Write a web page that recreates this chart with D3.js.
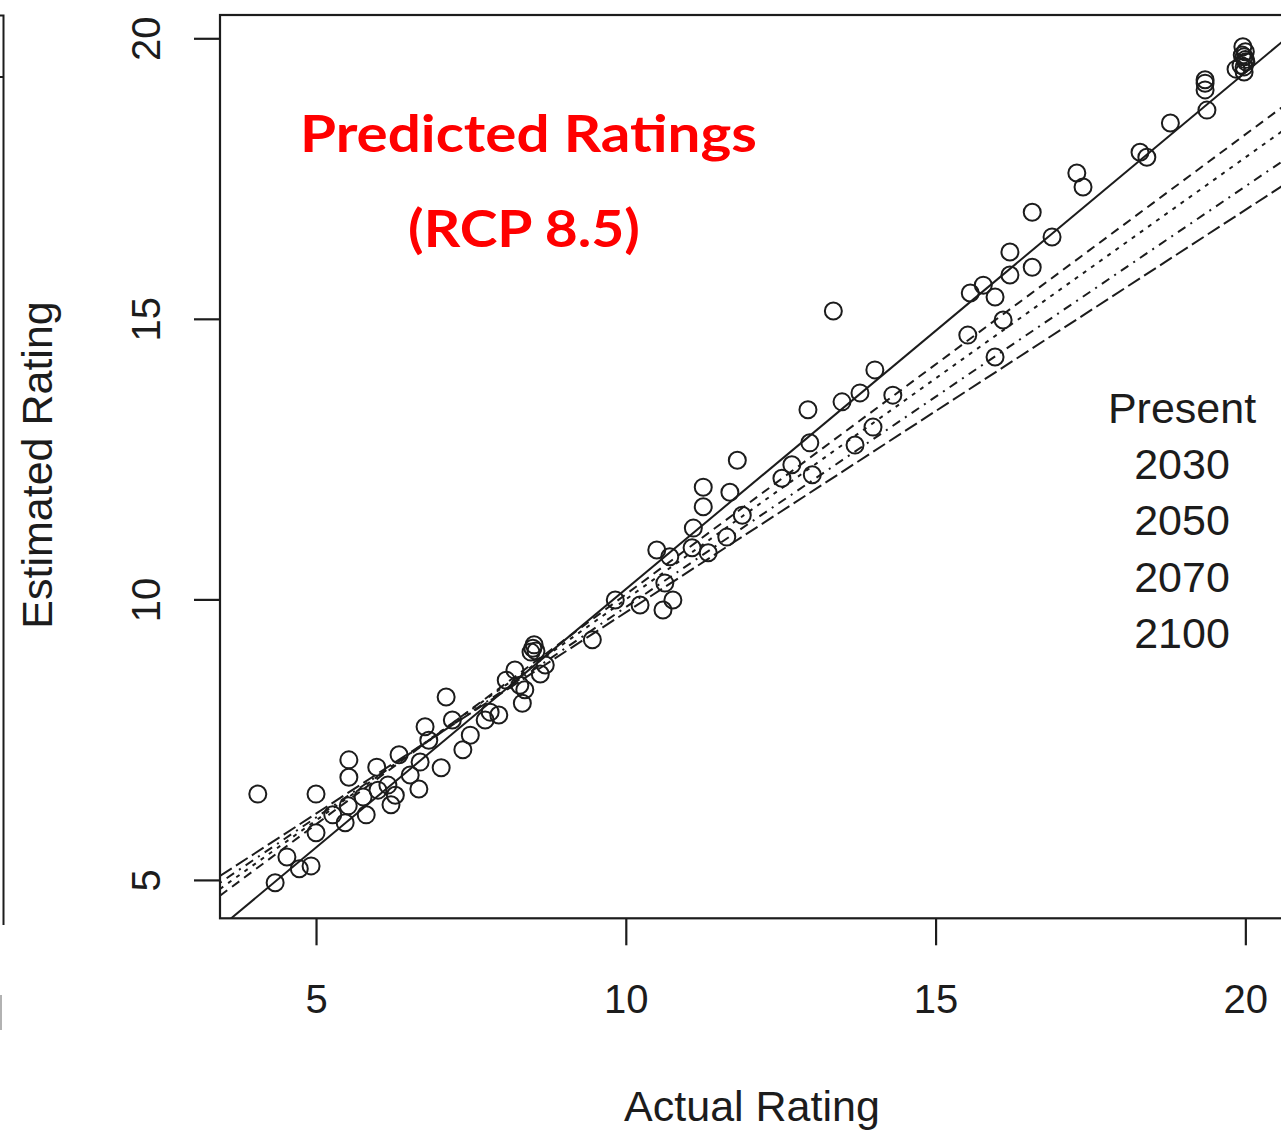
<!DOCTYPE html>
<html><head><meta charset="utf-8">
<script src="https://cdn.jsdelivr.net/npm/d3@7"></script>
<style>html,body{margin:0;padding:0;background:#fff;overflow:hidden}</style>
</head><body><svg id="c" width="1281" height="1132"></svg>
<script>
// ---- data ----
const actual = [4.06,5.00,4.34,4.73,4.92,4.53,5.00,5.47,5.52,5.53,5.53,5.98,6.34,6.76,7.10,7.20,6.82,7.02,6.66,6.21,5.81,5.76,6.00,6.28,6.52,6.68,6.16,5.27,7.37,7.49,7.95,8.07,8.33,8.50,8.55,8.47,8.52,8.62,8.37,8.21,8.70,7.81,8.29,7.73,
  9.46,9.83,10.23,10.60,10.76,10.63,10.50,11.09,11.25,11.25,11.07,11.33,11.63,11.68,11.80,11.88,12.52,12.68,13.01,12.97,13.70,13.99,10.71,
  13.35,12.94,13.49,13.78,14.02,14.31,15.52,15.96,16.09,15.56,15.77,15.96,16.20,16.20,16.56,16.56,16.88,17.28,17.38,18.30,18.41,18.79,19.35,19.35,19.38,19.35,
  19.96,20.00,19.98,20.01,19.93,19.85,19.98,20.00,19.95,19.98];
const estimated = [6.53,6.53,4.95,5.20,5.25,5.41,5.84,6.02,6.32,6.83,7.14,7.01,7.23,7.73,8.26,7.85,7.49,7.00,6.62,6.34,6.16,6.48,6.60,6.51,6.87,7.10,6.69,6.16,7.32,7.58,7.94,8.56,8.15,9.13,9.08,9.06,9.19,8.67,8.39,8.74,8.83,7.99,8.47,7.85,
  9.28,9.99,9.90,9.81,9.99,10.29,10.88,11.27,11.65,12.00,10.92,10.83,11.11,11.91,12.48,11.50,12.16,12.40,12.22,12.79,12.75,13.07,10.76,
  15.14,13.38,13.52,13.68,14.09,13.64,14.71,14.32,14.98,15.46,15.60,15.39,15.78,16.19,15.92,16.90,16.46,17.60,17.35,17.97,17.88,18.49,19.20,19.08,18.72,19.26,
  19.85,19.76,19.67,19.58,19.52,19.45,19.49,19.62,19.70,19.40];
const scenarios = ["Present","2030","2050","2070","2100"];
const fitX = [3.45, 20.64];
const fitStartY = [4.15, 4.72, 4.84, 4.95, 5.07];
const fitEndY = [19.98, 18.81, 18.38, 17.84, 17.40];
const xTicks = [5,10,15,20];
const yTicks = [5,10,15,20];
const titleLines = ["Predicted Ratings","(RCP 8.5)"];
const xTitle = "Actual Rating", yTitle = "Estimated Rating";

// ---- styling ----
const dashes = [null, "9,6", "4,6", "2,6,9,6", "14,5"];
const ink = "#1c1c1c";
const font = "'Liberation Sans', Arial, sans-serif";

const svg = d3.select("#c");
const L = 220, T = 15, B = 918.3, R = 1285;
const x = d3.scaleLinear().domain([3.45, 20.64]).range([L, R]);
const y = d3.scaleLinear().domain([4.316, 20.415]).range([B, T]);

svg.append("defs").append("clipPath").attr("id","plotclip")
  .append("rect").attr("x",L).attr("y",T).attr("width",R-L).attr("height",B-T);

// fragment of neighbouring panel at the far left
svg.append("path").attr("d","M0,15.5H3.5V925").attr("fill","none").attr("stroke",ink).attr("stroke-width",2);
svg.append("path").attr("d","M0,77H3").attr("stroke",ink).attr("stroke-width",2);
svg.append("path").attr("d","M1,995V1030").attr("stroke","#999").attr("stroke-width",1.5);

// fitted lines
const lineGen = d3.line().x(d=>x(d[0])).y(d=>y(d[1]));
const lg = svg.append("g").attr("clip-path","url(#plotclip)");
scenarios.forEach((s,i)=>{
  lg.append("path")
    .datum([[fitX[0], fitStartY[i]],[fitX[1], fitEndY[i]]])
    .attr("d", lineGen)
    .attr("fill","none").attr("stroke",ink)
    .attr("stroke-width", 2)
    .attr("stroke-dasharray", dashes[i]);
});

// points
svg.append("g").selectAll("circle").data(actual.map((a,i)=>[a, estimated[i]]))
  .join("circle")
  .attr("cx",d=>x(d[0])).attr("cy",d=>y(d[1])).attr("r",8.5)
  .attr("fill","none").attr("stroke",ink).attr("stroke-width",2);

// box
svg.append("rect").attr("x",L).attr("y",T).attr("width",R-L).attr("height",B-T)
  .attr("fill","none").attr("stroke",ink).attr("stroke-width",2.2);

// axes
const xa = svg.append("g").attr("transform",`translate(0,${B})`)
  .call(d3.axisBottom(x).tickValues(xTicks).tickSize(27).tickFormat(d3.format("d")));
xa.select(".domain").remove();
xa.selectAll(".tick line").attr("stroke",ink).attr("stroke-width",2.2);
xa.selectAll(".tick text").attr("y",95).attr("dy",null)
  .attr("fill",ink).style("font-family",font).style("font-size","40px");

const ya = svg.append("g").attr("transform",`translate(${L},0)`)
  .call(d3.axisLeft(y).tickValues(yTicks).tickSize(26).tickFormat(d3.format("d")));
ya.select(".domain").remove();
ya.selectAll(".tick line").attr("stroke",ink).attr("stroke-width",2.2);
ya.selectAll(".tick text").attr("x",null).attr("dy",null)
  .attr("text-anchor","middle")
  .attr("transform","translate(-60,0) rotate(-90)")
  .attr("fill",ink).style("font-family",font).style("font-size","40px");

// axis titles
svg.append("text").attr("x",752).attr("y",1121).attr("text-anchor","middle")
  .attr("fill",ink).style("font-family",font).style("font-size","43px").text(xTitle);
svg.append("text").attr("transform","translate(52,465) rotate(-90)").attr("text-anchor","middle")
  .attr("fill",ink).style("font-family",font).style("font-size","43px").text(yTitle);

// legend (text only)
svg.append("g").selectAll("text").data(scenarios).join("text")
  .attr("x",1182).attr("y",(d,i)=>423+i*56.2).attr("text-anchor","middle")
  .attr("fill",ink).style("font-family",font).style("font-size","43px").text(d=>d);

// title
const tl = [[528.5,152,457],[524,247,232]];
svg.append("g").selectAll("text").data(titleLines).join("text")
  .attr("x",(d,i)=>tl[i][0]).attr("y",(d,i)=>tl[i][1]).attr("text-anchor","middle")
  .attr("textLength",(d,i)=>tl[i][2]).attr("lengthAdjust","spacingAndGlyphs")
  .attr("fill","#ff0000").style("font-family","Lato, 'Open Sans', sans-serif")
  .style("font-weight",700).style("font-size","52px").text(d=>d);
</script>
</body></html>
